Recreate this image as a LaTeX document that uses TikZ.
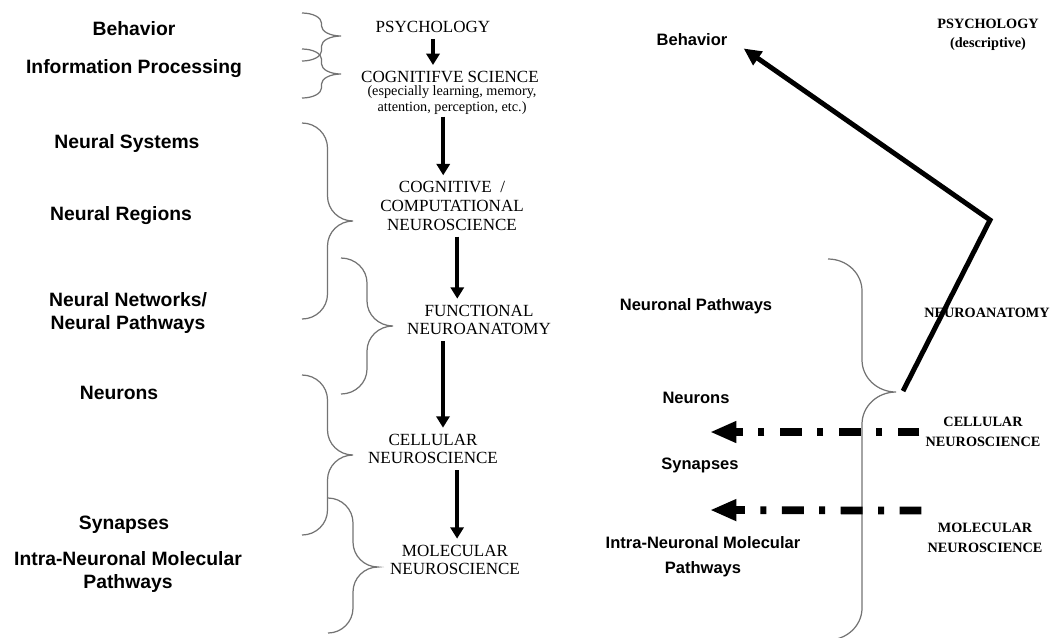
\documentclass[tikz,border=0pt]{standalone}
\usepackage{fontspec}
\setmainfont{Liberation Serif}
\newfontfamily\labelfont{Liberation Sans}
\usetikzlibrary{arrows.meta}

% curly brace: x of the ends, amplitude, top, tip, bottom, curl length
\newcommand{\curlybrace}[6]{%
  \draw[brc] (#1,#3) .. controls (#1+0.276*#2,#3) and (#1+0.5*#2,#3+0.448*#6) .. (#1+0.5*#2,#3+#6)
    -- (#1+0.5*#2,#4-#6) .. controls (#1+0.5*#2,#4-0.448*#6) and (#1+0.724*#2,#4) .. (#1+#2,#4)
    .. controls (#1+0.724*#2,#4) and (#1+0.5*#2,#4+0.448*#6) .. (#1+0.5*#2,#4+#6)
    -- (#1+0.5*#2,#5-#6) .. controls (#1+0.5*#2,#5-0.448*#6) and (#1+0.276*#2,#5) .. (#1,#5);}

\begin{document}
\begin{tikzpicture}[
    x=0.02cm, y=-0.02cm,
    lbl/.style={font=\labelfont\bfseries\fontsize{11}{13.2}\selectfont, align=center},
    rlbl/.style={font=\labelfont\bfseries\fontsize{9.4}{14}\selectfont, align=center},
    sci/.style={font=\fontsize{9.7}{10.7}\selectfont, align=center},
    rsci/.style={font=\bfseries\fontsize{8.1}{11}\selectfont, align=center},
    arr/.style={-{Triangle[length=6.5pt,width=7.5pt]}, line width=2.4pt},
    bigarr/.style={-{Triangle[length=10pt,width=9pt]}, line width=2.8pt},
    dasharr/.style={-{Triangle[length=15pt,width=11.5pt]}, line width=4.4pt,
        dash pattern=on 12.5pt off 8.8pt on 3.4pt off 8.8pt},
    brc/.style={draw=black!55, line width=0.7pt}
]
\useasboundingbox (0,0) rectangle (1053,637);

% levels of analysis
\node[lbl] (B)  at (134,29)  {Behavior};
\node[lbl] (IP) at (134,69)  {Information Processing};
\node[lbl] (NS) at (127,143) {Neural Systems};
\node[lbl] (NR) at (121,216) {Neural Regions};
\node[lbl] (NN) at (128,313) {Neural Networks/\\Neural Pathways};
\node[lbl] (Ne) at (119,393) {Neurons};
\node[lbl] (Sy) at (124,525) {Synapses};
\node[lbl] (IM) at (128,572) {Intra-Neuronal Molecular\\Pathways};

% disciplines
\node[sci] (P)  at (433,27)  {PSYCHOLOGY};
\node[sci] (CS) at (450,77)  {COGNITIFVE SCIENCE};
\node[sci, font=\fontsize{8.1}{9.1}\selectfont, inner sep=1pt] (E) at (452,100) {(especially learning, memory,\\attention, perception, etc.)};
\node[sci] (CC) at (452,206) {COGNITIVE\ \ /\\COMPUTATIONAL\\NEUROSCIENCE};
\node[sci] (FN) at (479,320) {FUNCTIONAL\\NEUROANATOMY};
\node[sci] (CN) at (433,449) {CELLULAR\\NEUROSCIENCE};
\node[sci] (MN) at (455,560) {MOLECULAR\\NEUROSCIENCE};

\curlybrace{302}{39}{13}{36}{61}{10}
\curlybrace{302}{39}{49}{74}{98}{10}
\curlybrace{302}{51}{123}{221}{319}{25}
\curlybrace{341}{52}{258}{326}{394}{25}
\curlybrace{302}{51}{375}{455}{535}{25}
\curlybrace{328}{50}{498}{567}{633}{25}

\draw[arr] (P.south) -- (P.south |- CS.north);
\draw[arr] ([xshift=-5pt]E.south) -- ([xshift=-5pt]E.south |- CC.north);
\draw[arr] ([xshift=3pt]CC.south) -- ([xshift=3pt]CC.south |- FN.north);
\draw[arr] ([xshift=-20.5pt]FN.south) -- ([xshift=-20.5pt]FN.south |- CN.north);
\draw[arr] ([xshift=13.7pt]CN.south) -- ([xshift=13.7pt]CN.south |- MN.north);

% right half
\node[rlbl] (Bh)  at (692,40)  {Behavior};
\node[rsci] (PD)  at (988,35)  {PSYCHOLOGY\\(descriptive)};
\node[rlbl] (NP)  at (696,306) {Neuronal Pathways};
\node[rsci] (NA)  at (987,313) {NEUROANATOMY};
\node[rlbl] (Nr)  at (696,398) {Neurons};
\node[rlbl] (Sr)  at (700,465) {Synapses};
\node[rlbl] (IMr) at (703,557) {Intra-Neuronal Molecular\\Pathways};
\node[rsci] (CNr) at (983,432) {CELLULAR\\NEUROSCIENCE};
\node[rsci] (MNr) at (985,538) {MOLECULAR\\NEUROSCIENCE};

\curlybrace{828}{68}{259}{392}{640}{32}

\coordinate (Nt) at (903,391);
\coordinate (K)  at (990,220);
\coordinate (Cx) at (710,432);
\coordinate (Mx) at (710,510);

\draw[bigarr] (Nt) -- (K) -- ([xshift=5.7pt,yshift=2.2pt]Bh.south east);
\draw[dasharr] (CNr.west) -- (Cx);
\draw[dasharr] ([yshift=15.6pt]MNr.west) -- (Mx);
\end{tikzpicture}
\end{document}
